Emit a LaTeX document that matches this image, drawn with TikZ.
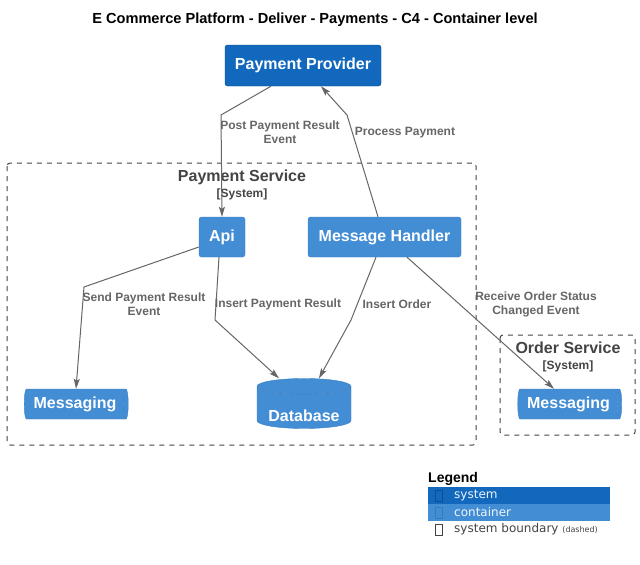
\documentclass[tikz,border=0pt]{standalone}
\usepackage{fontspec}
\setmainfont{Liberation Sans}
\newfontfamily\legfont{DejaVu Sans}
\usetikzlibrary{positioning,shapes.geometric,arrows.meta}
\definecolor{SysBlue}{HTML}{1168BD}
\definecolor{SysLine}{HTML}{0B4884}
\definecolor{CtrBlue}{HTML}{438DD5}
\definecolor{CtrLine}{HTML}{3C7FC0}
\definecolor{RelGray}{HTML}{666666}
\definecolor{BndGray}{HTML}{444444}
\begin{document}
\begin{tikzpicture}[x=1pt, y=-1pt, node distance = 0pt,
SystemStyle/.style={rectangle, rounded corners=2.5pt, fill=SysBlue, draw=SysLine,
                text=white, font=\fontsize{16}{19}\selectfont\bfseries, inner sep=0pt},
ContainerStyle/.style={SystemStyle, fill=CtrBlue, draw=CtrLine},
QueueStyle/.style={cylinder, aspect=0.3, cylinder uses custom fill,
                cylinder body fill=CtrBlue, cylinder end fill=CtrBlue, draw=CtrLine,
                text=white, font=\fontsize{16}{19}\selectfont\bfseries,
                minimum width=30pt, minimum height=104pt, inner sep=0pt},
DbStyle/.style={QueueStyle, shape border rotate=90, aspect=0.22,
                minimum width=94pt, minimum height=50pt},
DbText/.style={text=white, font=\fontsize{16}{19}\selectfont\bfseries,
                inner sep=0pt, yshift=-8pt},
BoundaryStyle/.style={draw=BndGray, line width=1pt, dash pattern=on 5pt off 5pt,
                rounded corners=3pt},
BoundaryTitle/.style={text=BndGray, font=\fontsize{16}{19}\selectfont\bfseries, inner sep=0pt},
BoundaryTag/.style={text=BndGray, font=\fontsize{12}{14}\selectfont\bfseries, inner sep=0pt},
RelStyle/.style={draw=RelGray, line width=1pt,
                -{Stealth[length=10pt, width=6pt, inset=2pt]}},
RelLabel/.style={text=RelGray, font=\fontsize{12}{14}\selectfont\bfseries,
                align=center, inner sep=0pt},
LegendRow/.style={rectangle, minimum width=182pt, minimum height=17pt,
                inner sep=0pt, outer sep=0pt},
LegendText/.style={font=\legfont\fontsize{12}{14}\selectfont, inner sep=0pt, anchor=west},
GlyphBox/.style={draw, line width=0.8pt, minimum width=7pt, minimum height=11pt,
                inner sep=0pt, anchor=west},]
\useasboundingbox[fill=white] (0,0) rectangle (640,565);
\node[font=\fontsize{14.6}{17}\selectfont\bfseries] (title) at (315,20)
  {E Commerce Platform - Deliver - Payments - C4 - Container level};
\draw[BoundaryStyle] (7,163) rectangle (476,445);
\node[BoundaryTitle] (pstitle) at (242,177) {Payment Service};
\node[BoundaryTag] (pstag) at (242,194) {[System]};
\draw[BoundaryStyle] (500,335) rectangle (635,435);
\node[BoundaryTitle] (ostitle) at (568,348) {Order Service};
\node[BoundaryTag] (ostag) at (568,366) {[System]};
\node[SystemStyle, minimum width=156pt, minimum height=41pt] (pp) at (303,65.5) {Payment Provider};
\node[ContainerStyle, minimum width=46pt, minimum height=40pt] (api) at (222,237) {Api};
\node[ContainerStyle, minimum width=153pt, minimum height=40pt] (mh) at (384.5,237) {Message Handler};
\node[QueueStyle] (msgl) at (75,404) {Messaging};
\node[DbStyle, label={[DbText]center:Database}] (db) at (304,407.5) {\phantom{Database}};
\node[QueueStyle] (msgr) at (568.5,404) {Messaging};
\draw[RelStyle] ([xshift=-32pt]pp.south) -- (221,115) -- (api.north);
\node[RelLabel] (l1) at (280,132) {Post Payment Result\\Event};
\draw[RelStyle] ([xshift=-6.5pt]mh.north) -- (347,115) -- ([xshift=18pt]pp.south);
\node[RelLabel] (l2) at (405,133) {Process Payment};
\draw[RelStyle] ([yshift=-10pt]api.west) -- (84,287) -- ([xshift=1pt]msgl.north);
\node[RelLabel] (l3) at (144,304) {Send Payment Result\\Event};
\draw[RelStyle] ([xshift=-3pt]api.south) -- (215,320) -- ([xshift=-25pt]db.north);
\node[RelLabel] (l4) at (278,304) {Insert Payment Result};
\draw[RelStyle] ([xshift=-8.5pt]mh.south) -- (351,320) -- ([xshift=15pt]db.north);
\node[RelLabel] (l5) at (397,304) {Insert Order};
\draw[RelStyle] ([xshift=22.5pt]mh.south) -- ([xshift=-14.5pt]msgr.north);
\node[RelLabel] (l6) at (536,304) {Receive Order Status\\Changed Event};
\node[font=\fontsize{14}{17}\selectfont\bfseries, inner sep=0pt, anchor=west] (leg) at (428,479) {Legend};
\node[LegendRow, fill=SysBlue] (lsys) at (519,495.5) {};
\node[LegendRow, fill=CtrBlue, below=of lsys] (lctr) {};
\node[LegendRow, below=of lctr] (lbnd) {};
\node[GlyphBox, draw=SysLine!80!SysBlue, right=7pt of lsys.west] (gsys) {};
\node[GlyphBox, draw=CtrLine!80!SysBlue, right=7pt of lctr.west] (gctr) {};
\node[GlyphBox, draw=BndGray, right=7pt of lbnd.west] (gbnd) {};
\node[LegendText, text=white!92!SysBlue, right=26pt of lsys.west] (tsys) {system};
\node[LegendText, text=white!92!CtrBlue, right=26pt of lctr.west] (tctr) {container};
\node[LegendText, text=BndGray, right=26pt of lbnd.west] (tbnd)
  {system boundary {\fontsize{8}{10}\selectfont (dashed)}};
\end{tikzpicture}
\end{document}
